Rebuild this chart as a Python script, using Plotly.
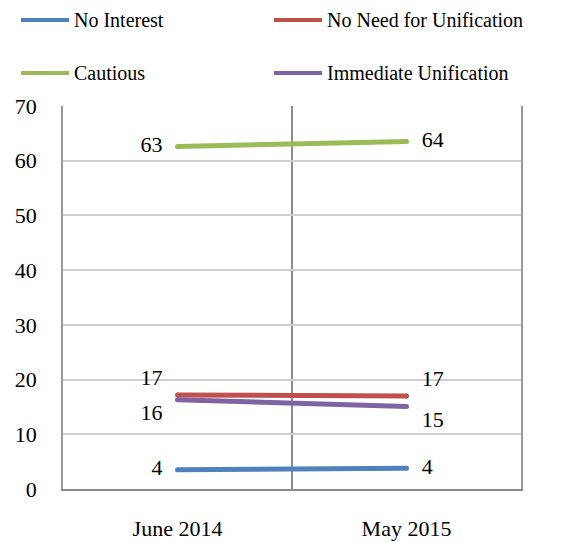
import plotly.graph_objects as go

# Survey periods and shares (%) for each attitude toward unification
periods = ["June 2014", "May 2015"]
series_names = ["No Interest", "No Need for Unification", "Cautious", "Immediate Unification"]
no_interest = [3.5, 3.8]
no_need = [17.2, 17.0]
cautious = [62.6, 63.5]
immediate = [16.3, 15.1]
y_ticks = [0, 10, 20, 30, 40, 50, 60, 70]

colors = ["#4F81BD", "#C0504D", "#9BBB59", "#8064A2"]
values = [no_interest, no_need, cautious, immediate]
label_pos = [
    ["middle left", "middle right"],
    ["top left", "top right"],
    ["middle left", "middle right"],
    ["bottom left", "bottom right"],
]

FONT = "Liberation Serif"
fig = go.Figure()

for name, vals, col, pos in zip(series_names, values, colors, label_pos):
    fig.add_trace(go.Scatter(
        x=periods, y=vals, name=name, mode="lines+markers+text",
        line=dict(color=col, width=5),
        marker=dict(color=col, size=5),
        text=[f"{v:.0f}" for v in vals],
        texttemplate="  %{text}  ",
        textposition=pos,
        textfont=dict(family=FONT, size=22, color="#000000"),
        showlegend=False,
        cliponaxis=False,
    ))

# Legend drawn as line samples with labels, two rows by two columns
L, R, T, B = 63, 50, 106, 53
W, H = 571, 542
pw, ph = W - L - R, H - T - B

def px_x(p):
    return (p - L) / pw

def px_y(p):
    return (H - B - p) / ph

legend_slots = [(21, 20), (274, 20), (21, 73), (274, 73)]
for name, col, (lx, ly) in zip(series_names, colors, legend_slots):
    fig.add_shape(type="line", xref="paper", yref="paper",
                  x0=px_x(lx), x1=px_x(lx + 48), y0=px_y(ly), y1=px_y(ly),
                  line=dict(color=col, width=4))
    fig.add_annotation(xref="paper", yref="paper", x=px_x(lx + 51), y=px_y(ly),
                       text=name, showarrow=False, xanchor="left", yanchor="middle",
                       font=dict(family=FONT, size=20, color="#000000"))

fig.update_layout(
    width=W, height=H,
    margin=dict(l=L, r=R, t=T, b=B, autoexpand=False),
    paper_bgcolor="white", plot_bgcolor="white",
    font=dict(family=FONT, size=22, color="#000000"),
    showlegend=False,
)
fig.update_xaxes(
    type="category", range=[-0.5, 1.5], automargin=False,
    tickson="boundaries", showgrid=True, gridcolor="#8c8c8c", gridwidth=1.5,
    showline=True, linecolor="#8c8c8c", linewidth=2,
    ticks="", ticklabelstandoff=19,
    tickfont=dict(family=FONT, size=22),
    zeroline=False,
)
fig.update_yaxes(
    range=[0, 70], tickvals=y_ticks, automargin=False,
    showgrid=True, gridcolor="#cfcfcf", gridwidth=1.5,
    showline=True, mirror=True, linecolor="#999999", linewidth=1.5,
    ticks="", ticklabelstandoff=20,
    tickfont=dict(family=FONT, size=22),
    zeroline=False,
)

fig.write_html("out.html")
